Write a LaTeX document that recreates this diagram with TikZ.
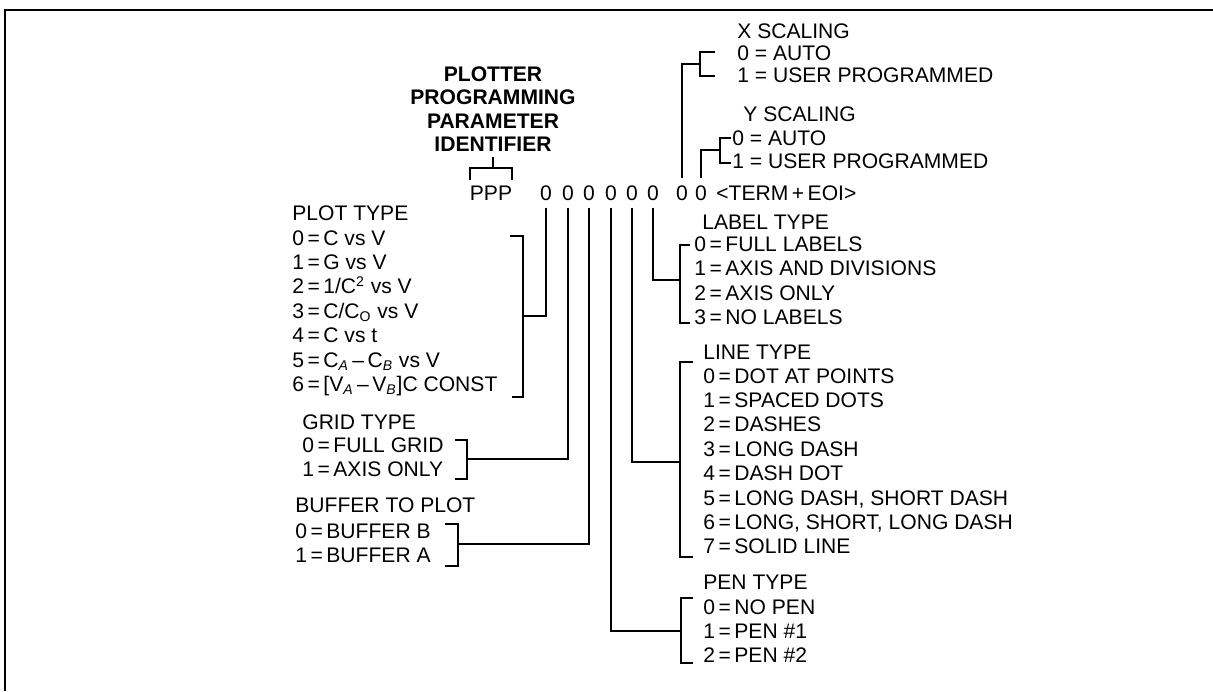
\documentclass[tikz,border=0pt]{standalone}
\usepackage{fontspec}
\setmainfont{Liberation Sans}

\begin{document}
\begin{tikzpicture}[x=0.02cm,y=-0.02cm,line cap=butt,line join=miter,
  font=\fontsize{12}{14}\selectfont,
  wire/.style={line width=1.3pt},
  item/.style={anchor=base west,inner sep=0pt},
  digit/.style={anchor=base,inner sep=4pt}]
  \useasboundingbox (0,0) rectangle (1213,691);
  \draw[line width=1.6pt] (5,691) -- (5,10) -- (1213,10);

  % parameter string
  \node[font=\fontsize{12}{13.3}\selectfont\bfseries,align=center,inner sep=0pt] (title) at (493,109)
    {PLOTTER\\PROGRAMMING\\PARAMETER\\IDENTIFIER};
  \node[digit,inner sep=0pt] (ppp) at (491,200) {PPP};
  \foreach \x [count=\i] in {546,568,589,611,632,653,682,701}
    \node[digit] (d\i) at (\x,200) {0};
  \node[item] (term) at (716,200) {<TERM\,+\,EOI>};
  \draw[wire] (470,180) |- (512,168) -- (512,180);
  \draw[wire,shorten <=3pt] (title.south) -- (title.south |- 0,168);

  % plot type
  \node[item] (plothead) at (292,220) {PLOT TYPE};
  \node[item] (plot0) at (292,245) {0\,=\,C vs V};
  \node[item] (plot1) at (292,269.4) {1\,=\,G vs V};
  \node[item] (plot2) at (292,293.8) {2\,=\,1/C\textsuperscript{2} vs V};
  \node[item] (plot3) at (292,318.2) {3\,=\,C/C\textsubscript{O} vs V};
  \node[item] (plot4) at (292,342.6) {4\,=\,C vs t};
  \node[item] (plot5) at (292,367) {5\,=\,C\textsubscript{\itshape A}\,–\,C\textsubscript{\itshape B} vs V};
  \node[item] (plot6) at (292,391.4) {6\,=\,[V\textsubscript{\itshape A}\,–\,V\textsubscript{\itshape B}]C CONST};
  \draw[wire] (510,236) -- (523,236) -- (523,397) -- (512,397);
  \coordinate (plotb) at (523,316);
  \draw[wire] (d1.south) |- (plotb);

  % grid type
  \node[item] (gridhead) at (302,429) {GRID TYPE};
  \node[item] (grid0) at (302,452) {0\,=\,FULL GRID};
  \node[item] (grid1) at (302,476) {1\,=\,AXIS ONLY};
  \draw[wire] (455,440) -- (467,440) -- (467,479) -- (455,479);
  \coordinate (gridb) at (467,459);
  \draw[wire] (d2.south) |- (gridb);

  % buffer to plot
  \node[item] (bufhead) at (295,512) {BUFFER TO PLOT};
  \node[item] (buf0) at (295,538) {0\,=\,BUFFER B};
  \node[item] (buf1) at (295,562) {1\,=\,BUFFER A};
  \draw[wire] (445,524) -- (458,524) -- (458,566) -- (445,566);
  \coordinate (bufb) at (458,544);
  \draw[wire] (d3.south) |- (bufb);

  % pen type
  \node[item] (penhead) at (703,589) {PEN TYPE};
  \node[item] (pen0) at (703,614) {0\,=\,NO PEN};
  \node[item] (pen1) at (703,638) {1\,=\,PEN \#1};
  \node[item] (pen2) at (703,662) {2\,=\,PEN \#2};
  \draw[wire] (693,598) -- (681,598) -- (681,663) -- (693,663);
  \coordinate (penb) at (681,631);
  \draw[wire] (d4.south) |- (penb);

  % line type
  \node[item] (linehead) at (703,359) {LINE TYPE};
  \node[item] (line0) at (703,383) {0\,=\,DOT AT POINTS};
  \node[item] (line1) at (703,407.4) {1\,=\,SPACED DOTS};
  \node[item] (line2) at (703,431.8) {2\,=\,DASHES};
  \node[item] (line3) at (703,456.2) {3\,=\,LONG DASH};
  \node[item] (line4) at (703,480.6) {4\,=\,DASH DOT};
  \node[item] (line5) at (703,505) {5\,=\,LONG DASH, SHORT DASH};
  \node[item] (line6) at (703,529.4) {6\,=\,LONG, SHORT, LONG DASH};
  \node[item] (line7) at (703,553.8) {7\,=\,SOLID LINE};
  \draw[wire] (693,362) -- (680,362) -- (680,557) -- (693,557);
  \coordinate (lineb) at (680,462);
  \draw[wire] (d5.south) |- (lineb);

  % label type
  \node[item] (labhead) at (702,229) {LABEL TYPE};
  \node[item] (lab0) at (694,251) {0\,=\,FULL LABELS};
  \node[item] (lab1) at (694,275) {1\,=\,AXIS AND DIVISIONS};
  \node[item] (lab2) at (694,300) {2\,=\,AXIS ONLY};
  \node[item] (lab3) at (694,324) {3\,=\,NO LABELS};
  \draw[wire] (690,245) -- (680,245) -- (680,323) -- (690,323);
  \coordinate (labb) at (680,280);
  \draw[wire] (d6.south) |- (labb);

  % x scaling
  \node[item] (xhead) at (737,38) {X SCALING};
  \node[item] (x0) at (737,60) {0 = AUTO};
  \node[item] (x1) at (737,82) {1 = USER PROGRAMMED};
  \draw[wire] (715,52) -- (700,52) -- (700,76) -- (715,76);
  \coordinate (xb) at (700,64);
  \draw[wire] (d7.north) |- (xb);

  % y scaling
  \node[item] (yhead) at (743,121) {Y SCALING};
  \node[item] (y0) at (732,145) {0 = AUTO};
  \node[item] (y1) at (732,168) {1 = USER PROGRAMMED};
  \draw[wire] (731,138) -- (720,138) -- (720,163) -- (731,163);
  \coordinate (yb) at (720,150);
  \draw[wire] (d8.north) |- (yb);
\end{tikzpicture}
\end{document}
